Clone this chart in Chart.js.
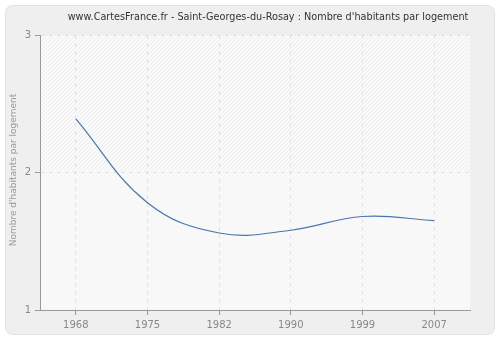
<!DOCTYPE html>
<html>
<head>
<meta charset="utf-8">
<script src="https://cdn.jsdelivr.net/npm/chart.js@4"></script>
<style>
  html, body { margin: 0; padding: 0; background: #ffffff; }
  #wrap { width: 500px; height: 340px; position: relative; }
</style>
</head>
<body>
<div id="wrap"><canvas id="chart" width="500" height="340"></canvas></div>
<script>
const titleText = "www.CartesFrance.fr - Saint-Georges-du-Rosay : Nombre d'habitants par logement";
const yTitle = "Nombre d'habitants par logement";
const years = ['1968', '1975', '1982', '1990', '1999', '2007'];
const habitantsParLogement = [2.39, 1.78, 1.56, 1.58, 1.68, 1.65];
const yTicks = [1, 2, 3];

const FONT = '"DejaVu Sans", sans-serif';

// fond arrondi + zone hachurée + titre
const decor = {
  id: 'decor',
  beforeDraw(chart) {
    const c = chart.ctx;
    const a = chart.chartArea;
    c.save();
    c.fillStyle = '#ffffff';
    c.fillRect(0, 0, chart.width, chart.height);
    c.beginPath();
    c.roundRect(5.5, 5.5, 489, 329, 7);
    c.fillStyle = '#efefef';
    c.fill();
    c.strokeStyle = '#e2e2e2';
    c.lineWidth = 1;
    c.stroke();

    c.fillStyle = '#fafafa';
    c.fillRect(a.left, a.top, a.right - a.left, a.bottom - a.top);
    const y2 = chart.scales.y.getPixelForValue(2);
    c.lineWidth = 1;
    // hachures, plus marquées au-dessus de 2
    [[a.top, y2, '#ececec'], [y2, a.bottom, '#f3f3f3']].forEach(([t, b, col]) => {
      c.save();
      c.beginPath();
      c.rect(a.left, t, a.right - a.left, b - t);
      c.clip();
      c.strokeStyle = col;
      for (let k = 0; k < 800; k += 4) {
        c.beginPath();
        c.moveTo(a.left + k, t);
        c.lineTo(a.left + k - (b - t), b);
        c.stroke();
      }
      c.restore();
    });
    c.restore();
  },
  afterDraw(chart) {
    const c = chart.ctx;
    const a = chart.chartArea;
    c.save();
    c.fillStyle = '#333333';
    c.font = '9.7px ' + FONT;
    c.textAlign = 'center';
    c.textBaseline = 'middle';
    c.fillText(titleText, 268, 17);
    c.translate(14, 170);
    c.rotate(-Math.PI / 2);
    c.font = '9px ' + FONT;
    c.fillStyle = '#999999';
    c.fillText(yTitle, 0, 0);
    c.restore();
  }
};

new Chart(document.getElementById('chart'), {
  type: 'line',
  data: {
    labels: years,
    datasets: [{
      data: habitantsParLogement,
      borderColor: '#4a76ac',
      borderWidth: 1.2,
      pointRadius: 0,
      fill: false,
      tension: 0.4
    }]
  },
  options: {
    responsive: false,
    animation: false,
    layout: { padding: { left: 0, right: 30, top: 35, bottom: 0 } },
    plugins: { legend: { display: false }, title: { display: false }, tooltip: { enabled: false } },
    scales: {
      x: {
        offset: true,
        grid: { color: '#e2e2e2', tickColor: '#999999', tickLength: 5, tickBorderDash: [], offset: false },
        border: { display: true, color: '#999999', dash: [4, 4] },
        ticks: { color: '#888888', font: { family: FONT, size: 10 }, padding: 4, maxRotation: 0 },
        afterFit(s) { s.height = 30; }
      },
      y: {
        min: 1,
        max: 3,
        afterBuildTicks(s) { s.ticks = yTicks.map(v => ({ value: v })); },
        grid: { color: '#e2e2e2', tickColor: '#999999', tickLength: 5, tickBorderDash: [] },
        border: { display: true, color: '#999999', dash: [4, 4] },
        ticks: { color: '#888888', font: { family: FONT, size: 10 }, padding: 4 },
        afterFit(s) { s.width = 40; }
      }
    }
  },
  plugins: [decor]
});
</script>
</body>
</html>
